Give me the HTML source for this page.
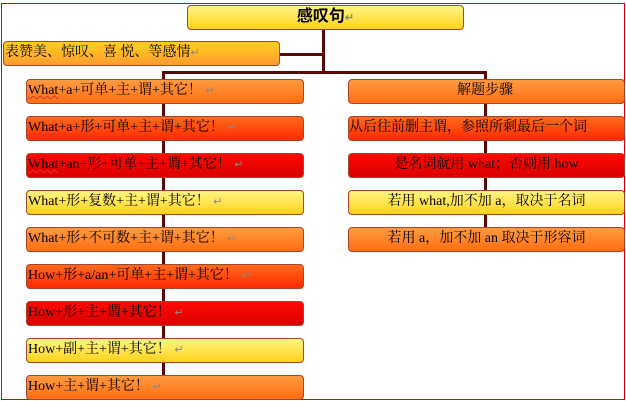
<!DOCTYPE html>
<html><head><meta charset="utf-8"><style>
html,body{margin:0;padding:0;}
body{width:626px;height:401px;position:relative;background:#fff;overflow:hidden;
font-family:"Liberation Serif","Noto Serif CJK SC",serif;}
.frame{position:absolute;left:1px;top:3px;width:622px;height:395px;border:1px solid #e00000;}
.b{position:absolute;height:23px;border:1px solid #a8442a;border-radius:4px;box-sizing:content-box;
font-size:14px;line-height:22px;color:#000;white-space:nowrap;overflow:hidden;}
.o{background:linear-gradient(#ff9a40,#ff6e12);}
.ro{background:linear-gradient(#ff6a1c,#ff2a00);}
.r{background:linear-gradient(#ff0a00,#d80000);}
.y{background:linear-gradient(#fff684,#ffd21c);}
.yo{background:linear-gradient(#ffd21c,#ff9a30);}
.L{left:26px;width:275px;padding-left:1px;}
.R{left:348px;width:275px;text-align:center;}
.ln{position:absolute;background:#5a0808;}
.p{color:#888;font-size:11px;}
.u{text-decoration:underline wavy #e03030;text-decoration-thickness:1px;}
</style></head><body>
<div class="frame"></div>
<div class="ln" style="left:322px;top:29px;width:3px;height:45px"></div>
<div class="ln" style="left:279px;top:53px;width:45px;height:3px"></div>
<div class="ln" style="left:162px;top:71px;width:325px;height:3px"></div>
<div class="ln" style="left:162px;top:71px;width:3px;height:310px"></div>
<div class="ln" style="left:484px;top:71px;width:3px;height:160px"></div>

<div class="b y" style="left:187px;top:5px;width:275px;text-align:center;font-weight:bold;font-size:16px;font-family:'Liberation Sans','Noto Sans CJK SC',sans-serif">感叹句<span class="p">↵</span></div>
<div class="b yo" style="left:3px;top:41px;width:274px;padding-left:1px;">表赞美、惊叹、喜 悦、等感情<span class="p">↵</span></div>

<div class="b o L" style="top:79px"><span class="u">What</span>+a+可单+主+谓+其它！ <span class="p">↵</span></div>
<div class="b ro L" style="top:116px"><span class="u">What</span>+a+形+可单+主+谓+其它！ <span class="p">↵</span></div>
<div class="b r L" style="top:153px"><span class="u">What</span>+an+形+可单+主+谓+其它！ <span class="p">↵</span></div>
<div class="b y L" style="top:190px">What+形+复数+主+谓+其它！ <span class="p">↵</span></div>
<div class="b o L" style="top:227px">What+形+不可数+主+谓+其它！ <span class="p">↵</span></div>
<div class="b ro L" style="top:264px">How+形+a/an+可单+主+谓+其它！ <span class="p">↵</span></div>
<div class="b r L" style="top:301px">How+形+主+谓+其它！ <span class="p">↵</span></div>
<div class="b y L" style="top:338px">How+副+主+谓+其它！ <span class="p">↵</span></div>
<div class="b o L" style="top:375px">How+主+谓+其它！ <span class="p">↵</span></div>

<div class="b o R" style="top:79px">解题步骤<span class="p">.</span></div>
<div class="b ro R" style="top:116px;text-align:left">从后往前删主谓，参照所剩最后一个词<span class="p">.</span></div>
<div class="b r R" style="top:153px">是名词就用 what；否则用 how</div>
<div class="b y R" style="top:190px">若用 what,加不加 a，取决于名词</div>
<div class="b o R" style="top:227px">若用 a，加不加 an 取决于形容词</div>
</body></html>
